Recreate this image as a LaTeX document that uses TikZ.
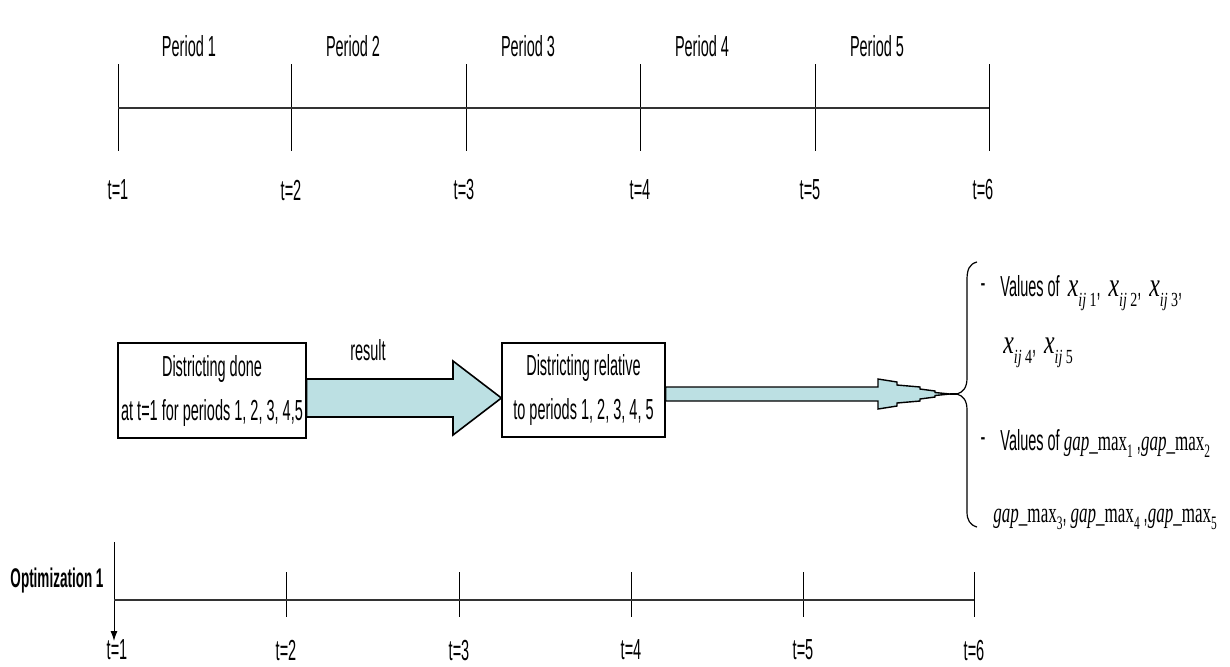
\documentclass[tikz,border=0pt]{standalone}
\usepackage{fontspec}
\setmainfont{Liberation Sans}[FakeStretch=0.5]
\newfontfamily\tms{Liberation Serif}[FakeStretch=0.7]
\newfontfamily\tmsn{Liberation Serif}[FakeStretch=0.6]
\usetikzlibrary{arrows.meta,calc}
\definecolor{arrowfill}{HTML}{BCE0E3}
\newcommand\xsub[1]{{\fontsize{17}{17}\selectfont\tms\itshape x}\raisebox{-5pt}{\fontsize{10}{10}\selectfont\tms\itshape ij\,\upshape #1}}
\newcommand\gapm[1]{{\fontsize{14.2}{15}\selectfont\tmsn\itshape gap\upshape\_max}\raisebox{-3.5pt}{\fontsize{9.5}{9.5}\selectfont\tmsn #1}}
\begin{document}
\begin{tikzpicture}[x=0.5pt,y=-0.5pt,
  lbl/.style={font=\fontsize{14.5}{16}\selectfont, inner sep=0pt},
  mlbl/.style={font=\fontsize{14.5}{16}\selectfont, inner sep=0pt, anchor=base west},
  tline/.style={line width=1.1pt, draw=black!80},
  tick/.style={line width=0.5pt},
  stepbox/.style={draw, line width=0.6pt, fill=white, align=center, inner sep=0pt,
     font=\fontsize{14.5}{22}\selectfont},
  blockarrow/.style={draw, line width=0.8pt, fill=arrowfill, line join=miter},
  brace/.style={line width=0.6pt}]
\useasboundingbox (0,0) rectangle (1230,666);

% ---------- top timeline ----------
\foreach \n/\x in {1/118,2/291,3/466,4/640,5/815,6/989}{
  \coordinate (T\n) at (\x,108);
  \draw[tick] (\x,64) -- (\x,151);
}
\draw[tline] (T1) -- (T6);
\foreach \n/\x in {1/118,2/291,3/464,4/640,5/810,6/983}{
  \node[lbl] (tt\n) at (\x,190) {t=\n};
}
\foreach \n/\x in {1/189,2/353,3/528,4/702,5/877}{
  \node[lbl] (p\n) at (\x,46) {Period \n};
}

% ---------- boxes and arrows ----------
\node[stepbox, minimum width=94pt, minimum height=47.5pt] (b1) at (212,390.5)
  {Districting done\\at t=1 for periods 1, 2, 3, 4,5};
\node[stepbox, minimum width=81.5pt, minimum height=47pt] (b2) at (583.5,390)
  {Districting relative\\to periods 1, 2, 3, 4, 5};
\draw[blockarrow] (b1.east |- 0,379) -- (453,379) -- (453,361) -- (b2.west |- 0,398)
  -- (453,435) -- (453,417) -- (b1.east |- 0,417) -- cycle;
\node[lbl] (res) at (368,350) {result};

\coordinate (tip) at (950,394);
\coordinate (brtip) at (957,394);
\draw[blockarrow, line width=0.7pt] (b2.east |- 0,387) -- (878,387) -- (878,379) -- (897,382) -- (897,385)
  -- (920,387) -- (920,389) -- (935,391) -- (935,392.5) -- (tip)
  -- (935,395.5) -- (935,397) -- (920,399) -- (920,401) -- (897,403) -- (897,406)
  -- (878,409) -- (878,401) -- (b2.east |- 0,401) -- cycle;
\draw[line width=0.6pt] (tip) -- (brtip);

% brace
\draw[brace] (977,262) .. controls (969,264) and (967,270) .. (967,280) -- (967,378)
  .. controls (967,388) and (963,392) .. (brtip)
  .. controls (963,396) and (967,400) .. (967,410) -- (967,512)
  .. controls (967,520) and (970,525) .. (977,527);

% right-hand texts
\node[lbl] (d1) at (983,288) {-};
\node[mlbl] (v1) at (1000,296) {Values of \ \xsub{1}, \ \xsub{2}, \ \xsub{3},};
\node[mlbl] (v2) at (1003,353) {\xsub{4}, \ \xsub{5}};
\node[lbl] (d2) at (983,442) {-};
\node[mlbl] (v3) at (1000,450) {Values of \gapm{1} ,\gapm{2}};
\node[mlbl] (v4) at (993,522) {\gapm{3}, \gapm{4} ,\gapm{5}};

% ---------- bottom timeline ----------
\foreach \n/\x in {1/114,2/286,3/459,4/631,5/803,6/974}{
  \coordinate (B\n) at (\x,600);
}
\foreach \n in {2,...,6}{
  \draw[tick] ($(B\n)+(0,-28)$) -- ($(B\n)+(0,17)$);
}
\coordinate (arrtop) at (114,542);
\coordinate (arrbot) at (114,641);
\draw[tick, -{Latex[length=5pt,width=3.5pt]}] (arrtop) -- (arrbot);
\draw[tline] (B1) -- (B6);
\foreach \n/\x/\y in {1/117,2/286,3/459,4/631,5/803,6/974}{
  \node[lbl] (bt\n) at (\x,650) {t=\n};
}
\node[font=\fontsize{13.5}{15}\selectfont\bfseries, inner sep=0pt] (opt) at (57,581) {Optimization 1};
\end{tikzpicture}
\end{document}
